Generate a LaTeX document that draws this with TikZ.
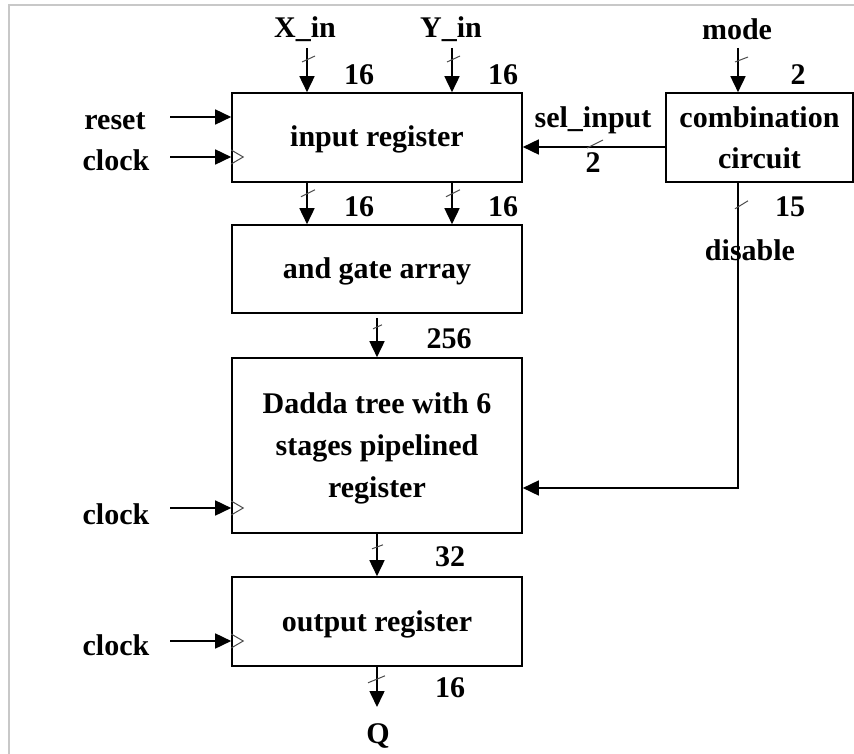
\documentclass[tikz,border=0pt]{standalone}
\usepackage{fontspec}
\setmainfont{Liberation Serif}
\usetikzlibrary{arrows.meta,calc}
\definecolor{frame}{RGB}{200,200,200}
\begin{document}
\begin{tikzpicture}[x=1pt,y=-1pt,
  box/.style={draw, line width=1.6pt, inner sep=0pt, align=center,
    font=\fontsize{30}{41}\selectfont\bfseries},
  onebox/.style={box, minimum width=290pt, text height=25pt, text depth=6pt},
  lbl/.style={font=\fontsize{30}{36}\selectfont\bfseries, inner sep=0pt, anchor=base},
  wire/.style={line width=1.6pt, -{Triangle[length=16pt,width=15pt]}},
  bus/.style={line width=1pt, gray!60!black},
  clk/.style={line width=1pt, gray!60!black}]
\useasboundingbox (0,0) rectangle (854,754);
\fill[white] (0,0) rectangle (854,754);
\draw[line width=2.5pt, frame] (9,754) -- (9,5) -- (854,5);

% boxes
\node[onebox, minimum height=89pt] (inreg) at (377,137.5) {input register};
\node[box, minimum width=187pt, minimum height=89pt] (comb) at (759.5,137.5) {combination\\circuit};
\node[onebox, minimum height=88pt] (andg) at (377,269) {and gate array};
\node[box, minimum width=290pt, minimum height=175pt, text height=110pt, text depth=7pt,
  font=\fontsize{30}{42}\selectfont\bfseries] (dadda) at (377,445.5) {Dadda tree with 6\\stages pipelined\\register};
\node[onebox, minimum height=89pt] (outreg) at (377,621.5) {output register};

% labels
\node[lbl] (xin) at (305,38) {X\_in};
\node[lbl] (yin) at (451,38) {Y\_in};
\node[lbl] (mode) at (737,40) {mode};
\node[lbl] (n1) at (359,85) {16};
\node[lbl] (n2) at (503,85) {16};
\node[lbl] (n3) at (798,85) {2};
\node[lbl] (reset) at (115,130) {reset};
\node[lbl] (clk1) at (116,171) {clock};
\node[lbl] (sel) at (593,128) {sel\_input};
\node[lbl] (n4) at (593,173) {2};
\node[lbl] (n5) at (359,217) {16};
\node[lbl] (n6) at (503,217) {16};
\node[lbl] (n15) at (790,217) {15};
\node[lbl] (dis) at (750,260) {disable};
\node[lbl] (n7) at (449,348) {256};
\node[lbl] (clk2) at (116,524) {clock};
\node[lbl] (n8) at (450,566) {32};
\node[lbl] (clk3) at (116,655) {clock};
\node[lbl] (n9) at (450,697) {16};
\node[lbl] (q) at (378,743) {Q};

% coordinates
\coordinate (xs) at (307,48);
\coordinate (ys) at (452,48);
\coordinate (ms) at (738,48);
\coordinate (rs) at (170,117);
\coordinate (cs1) at (170,157);
\coordinate (cs2) at (170,508);
\coordinate (cs3) at (170,641);
\coordinate (ss) at (666,147);
\coordinate (dd) at (738,488);
\coordinate (qe) at (377,707);

% connectors
\draw[wire] (xs) -- (xs |- inreg.north);
\draw[wire] (ys) -- (ys |- inreg.north);
\draw[wire] (ms) -- (ms |- comb.north);
\draw[wire] (rs) -- (rs -| inreg.west);
\draw[wire] (cs1) -- (cs1 -| inreg.west);
\draw[wire] (cs2) -- (cs2 -| dadda.west);
\draw[wire] (cs3) -- (cs3 -| outreg.west);
\draw[wire] (ss) -- (ss -| inreg.east);
\draw[wire] (inreg.south -| xs) -- (andg.north -| xs);
\draw[wire] (inreg.south -| ys) -- (andg.north -| ys);
\draw[wire, shorten <=4pt] (andg.south) -- (dadda.north);
\draw[wire] (dadda.south) -- (outreg.north);
\draw[wire] (outreg.south) -- (qe);
\draw[wire] (comb.south -| dd) -- (dd) -- (dd -| dadda.east);

% clock markers
\foreach \c/\b in {cs1/inreg, cs2/dadda, cs3/outreg}{
  \draw[clk, line join=miter] ($(\c -| \b.west)+(0,-7)$) -- ++(12,7) -- ++(-12,7);
}

% bus slashes
\draw[bus] ($(xs)+(-5,14)$) -- ++(13,-6);
\draw[bus] ($(ys)+(-5,14)$) -- ++(13,-6);
\draw[bus] ($(ms)+(-3,14)$) -- ++(13,-5);
\draw[bus] ($(inreg.south -| xs)+(-6,14)$) -- ++(14,-7);
\draw[bus] ($(inreg.south -| ys)+(-6,14)$) -- ++(14,-7);
\draw[bus] ($(andg.south)+(-4,15)$) -- ++(9,-4);
\draw[bus] ($(dadda.south)+(-5,15)$) -- ++(11,-4);
\draw[bus] ($(outreg.south)+(-9,16)$) -- ++(17,-7);
\draw[bus] ($(comb.south -| dd)+(-3,26)$) -- ++(13,-8);
\draw[bus] (587,148) -- (603,140);
\end{tikzpicture}
\end{document}
